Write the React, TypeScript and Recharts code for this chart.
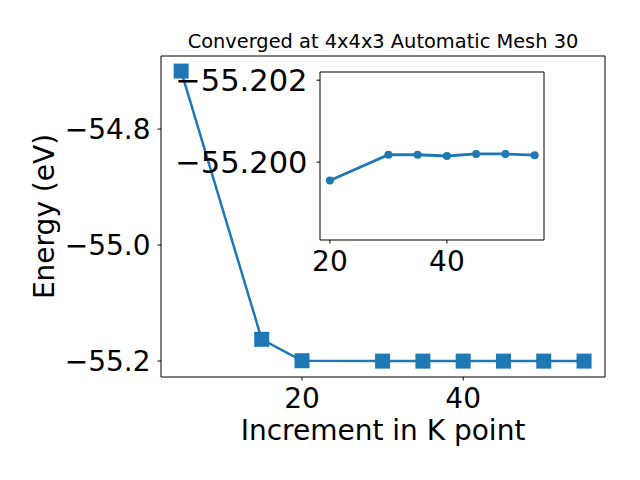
import { LineChart, Line, XAxis, YAxis } from "recharts";

const kPoints = [5, 15, 20, 30, 35, 40, 45, 50, 55];
const energy = [-54.7, -55.1626, -55.19955, -55.20018, -55.20018, -55.20015, -55.2002, -55.2002, -55.20017];
const mainXTicks = [20, 40];
const mainYTicks = [-55.2, -55.0, -54.8];
const insetXTicks = [20, 40];
const insetYTicks = [-55.202, -55.2];
const insetStart = 2;

const title = "Converged at 4x4x3 Automatic Mesh 30";
const xLabel = "Increment in K point";
const yLabel = "Energy (eV)";

const BLUE = "#1f77b4";
const FONT = "DejaVu Sans";

const mainData = kPoints.map((k, i) => ({ k, e: energy[i] }));
const insetData = mainData.slice(insetStart);

const minus = (s: string) => s.replace("-", "\u2212");

function Square(props: any) {
  const { cx, cy } = props;
  if (cx == null || cy == null) return null;
  return <rect x={cx - 7.5} y={cy - 7.5} width={15} height={15} fill={BLUE} />;
}

function Dot(props: any) {
  const { cx, cy } = props;
  if (cx == null || cy == null) return null;
  return <circle cx={cx} cy={cy} r={4} fill={BLUE} />;
}

const tickStyle = { fontFamily: FONT, fontSize: 28, fill: "#000" };

export default function App() {
  return (
    <div style={{ position: "absolute", left: 0, top: 0, width: 640, height: 480, background: "#fff" }}>
      <div style={{ position: "absolute", left: 0, top: 0 }}>
        <LineChart width={640} height={480} data={mainData} margin={{ top: 55, right: 34, bottom: 0, left: 0 }}>
          <XAxis
            dataKey="k"
            type="number"
            domain={[2.5, 57.6]}
            allowDataOverflow
            ticks={mainXTicks}
            height={103}
            tickSize={3.5}
            tickMargin={7.5}
            tick={tickStyle}
            axisLine={{ stroke: "#000" }}
            tickLine={{ stroke: "#000" }}
            label={{ value: xLabel, position: "insideBottom", offset: 40, style: { fontFamily: FONT, fontSize: 28, fill: "#000" } }}
          />
          <XAxis
            xAxisId="top"
            orientation="top"
            dataKey="k"
            type="number"
            domain={[2.5, 57.6]}
            allowDataOverflow
            height={1}
            tick={false}
            tickLine={false}
            axisLine={{ stroke: "#000" }}
            label={{ value: title, position: "top", offset: 7, style: { fontFamily: FONT, fontSize: 19.4, fill: "#000" } }}
          />
          <YAxis
            dataKey="e"
            type="number"
            domain={[-55.2276, -54.674]}
            allowDataOverflow
            ticks={mainYTicks}
            width={161}
            tickSize={3.5}
            tickMargin={7}
            tick={tickStyle}
            tickFormatter={(v: number) => minus(v.toFixed(1))}
            axisLine={{ stroke: "#000" }}
            tickLine={{ stroke: "#000" }}
            label={{
              value: yLabel,
              content: (p: any) => {
                const vb = p.viewBox || { x: 0, y: 56, width: 161, height: 321 };
                const cy = vb.y + vb.height / 2;
                return (
                  <text
                    transform={`translate(54, ${cy}) rotate(-90)`}
                    textAnchor="middle"
                    fontFamily={FONT}
                    fontSize={28}
                    fill="#000"
                  >
                    {yLabel}
                  </text>
                );
              },
            }}
          />
          <YAxis
            yAxisId="right"
            orientation="right"
            type="number"
            width={1}
            domain={[-55.2276, -54.674]}
            allowDataOverflow
            tick={false}
            tickLine={false}
            axisLine={{ stroke: "#000" }}
          />
          <Line
            dataKey="e"
            stroke={BLUE}
            strokeWidth={2.5}
            dot={<Square />}
            activeDot={false}
            isAnimationActive={false}
          />
        </LineChart>
      </div>
      <div style={{ position: "absolute", left: 140, top: 60 }}>
        <LineChart width={420} height={230} data={insetData} margin={{ top: 11, right: 15, bottom: 0, left: 0 }}>
          <XAxis
            dataKey="k"
            type="number"
            domain={[18.3, 56.6]}
            allowDataOverflow
            ticks={insetXTicks}
            height={50}
            tickSize={3.5}
            tickMargin={8}
            tick={tickStyle}
            axisLine={{ stroke: "#000" }}
            tickLine={{ stroke: "#000" }}
          />
          <XAxis
            xAxisId="top"
            orientation="top"
            dataKey="k"
            type="number"
            domain={[18.3, 56.6]}
            allowDataOverflow
            height={1}
            tick={false}
            tickLine={false}
            axisLine={{ stroke: "#000" }}
          />
          <YAxis
            dataKey="e"
            type="number"
            reversed
            domain={[-55.2022, -55.1981]}
            allowDataOverflow
            ticks={insetYTicks}
            width={180}
            tickSize={3.5}
            tickMargin={9}
            tick={{ ...tickStyle, fontSize: 30.5 }}
            tickFormatter={(v: number) => minus(v.toFixed(3))}
            axisLine={{ stroke: "#000" }}
            tickLine={{ stroke: "#000" }}
          />
          <YAxis
            yAxisId="right"
            orientation="right"
            type="number"
            width={1}
            domain={[-55.2022, -55.1981]}
            allowDataOverflow
            tick={false}
            tickLine={false}
            axisLine={{ stroke: "#000" }}
          />
          <Line
            dataKey="e"
            stroke={BLUE}
            strokeWidth={2.8}
            dot={<Dot />}
            activeDot={false}
            isAnimationActive={false}
          />
        </LineChart>
      </div>
    </div>
  );
}
